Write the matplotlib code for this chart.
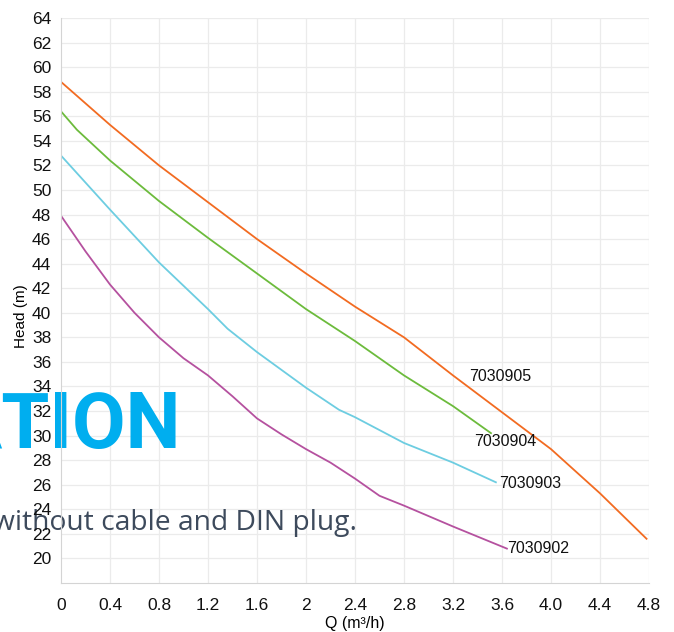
import numpy as np
from matplotlib import pyplot as plt

plt.rcParams['font.family'] = ['Liberation Sans Narrow', 'Liberation Sans', 'DejaVu Sans']

# pump curves, Q in m3/h, head in m
q_905 = [0, 0.4, 0.8, 1.2, 1.6, 2.0, 2.4, 2.8, 3.2, 3.6, 4.0, 4.4, 4.78]
h_905 = [58.8, 55.3, 52.0, 49.0, 46.0, 43.2, 40.5, 38.0, 34.9, 31.9, 28.9, 25.3, 21.6]

q_904 = [0, 0.13, 0.4, 0.8, 1.2, 1.6, 2.0, 2.4, 2.8, 3.2, 3.51]
h_904 = [56.4, 54.9, 52.4, 49.1, 46.1, 43.2, 40.3, 37.7, 34.9, 32.4, 30.2]

q_903 = [0, 0.4, 0.8, 1.2, 1.36, 1.6, 2.0, 2.27, 2.4, 2.8, 3.2, 3.55]
h_903 = [52.8, 48.4, 44.1, 40.3, 38.7, 36.8, 33.9, 32.1, 31.5, 29.4, 27.8, 26.2]

q_902 = [0, 0.2, 0.4, 0.6, 0.8, 1.0, 1.2, 1.4, 1.6, 1.8, 2.0, 2.2, 2.4, 2.6, 2.8, 3.2, 3.64]
h_902 = [47.9, 45.0, 42.3, 40.0, 38.0, 36.3, 34.9, 33.2, 31.4, 30.1, 28.9, 27.8, 26.5, 25.1, 24.3, 22.6, 20.8]

models = ["7030905", "7030904", "7030903", "7030902"]
colors = ['#f26b21', '#6cbb3c', '#6dcde1', '#b5519f']
# label anchors (left edge, vertical centre)
label_pos = [(3.33, 34.8), (3.37, 29.55), (3.58, 26.1), (3.64, 20.8)]

x_ticks = [0, 0.4, 0.8, 1.2, 1.6, 2.0, 2.4, 2.8, 3.2, 3.6, 4.0, 4.4, 4.8]
x_ticklabels = ["0", "0.4", "0.8", "1.2", "1.6", "2", "2.4", "2.8", "3.2", "3.6", "4.0", "4.4", "4.8"]
y_ticks = list(range(20, 65, 2))

fig = plt.figure(figsize=(6.74, 6.32), dpi=100)
ax = fig.add_axes([61/674, 1 - 583/632, (649 - 61)/674, (583 - 18)/632])

curves = [(q_905, h_905), (q_904, h_904), (q_903, h_903), (q_902, h_902)]
for (q, h), name, c, (lx, ly) in zip(curves, models, colors, label_pos):
    ax.plot(q, h, color=c, lw=1.3, zorder=2)
    ax.text(lx, ly, name, fontsize=11.5, va='center', ha='left', color='#111111')

ax.set_xlim(0, 4.8)
ax.set_ylim(18, 64)
ax.set_xticks(x_ticks)
ax.set_xticklabels(x_ticklabels)
ax.set_yticks(y_ticks)

# grid drawn by hand so the page text can sit between grid and tick labels
for y in y_ticks:
    ax.axhline(y, color='#ebebeb', lw=0.9, zorder=0.3)
for x in x_ticks[1:]:
    ax.axvline(x, color='#ebebeb', lw=0.9, zorder=0.3)
ax.xaxis.set_zorder(1)
ax.yaxis.set_zorder(1)

ax.tick_params(length=0, labelsize=12.5, colors='#111111')
ax.tick_params(axis='x', pad=11)
ax.tick_params(axis='y', pad=7)
for s in ['top', 'right']:
    ax.spines[s].set_visible(False)
for s in ['left', 'bottom']:
    ax.spines[s].set_color('#d4d4d4')

ax.set_xlabel("Q (m³/h)", fontsize=11.5, labelpad=2)
ax.set_ylabel("Head (m)", fontsize=11)
ax.yaxis.set_label_coords(-0.056, 0.473)

# leftover text from the catalogue page
ax.text(181/674, 1 - 448/632, "ATION", family='Roboto', weight='bold',
        fontsize=56, color='#00aeef', ha='right', va='baseline',
        transform=fig.transFigure, clip_on=False, zorder=0.7)
ax.text(357/674, 1 - 530/632, "without cable and DIN plug.", family='Open Sans',
        fontsize=20.3, color='#3d4a5c', ha='right', va='baseline',
        transform=fig.transFigure, clip_on=False, zorder=0.7)

fig.savefig('out.png', dpi=100)
